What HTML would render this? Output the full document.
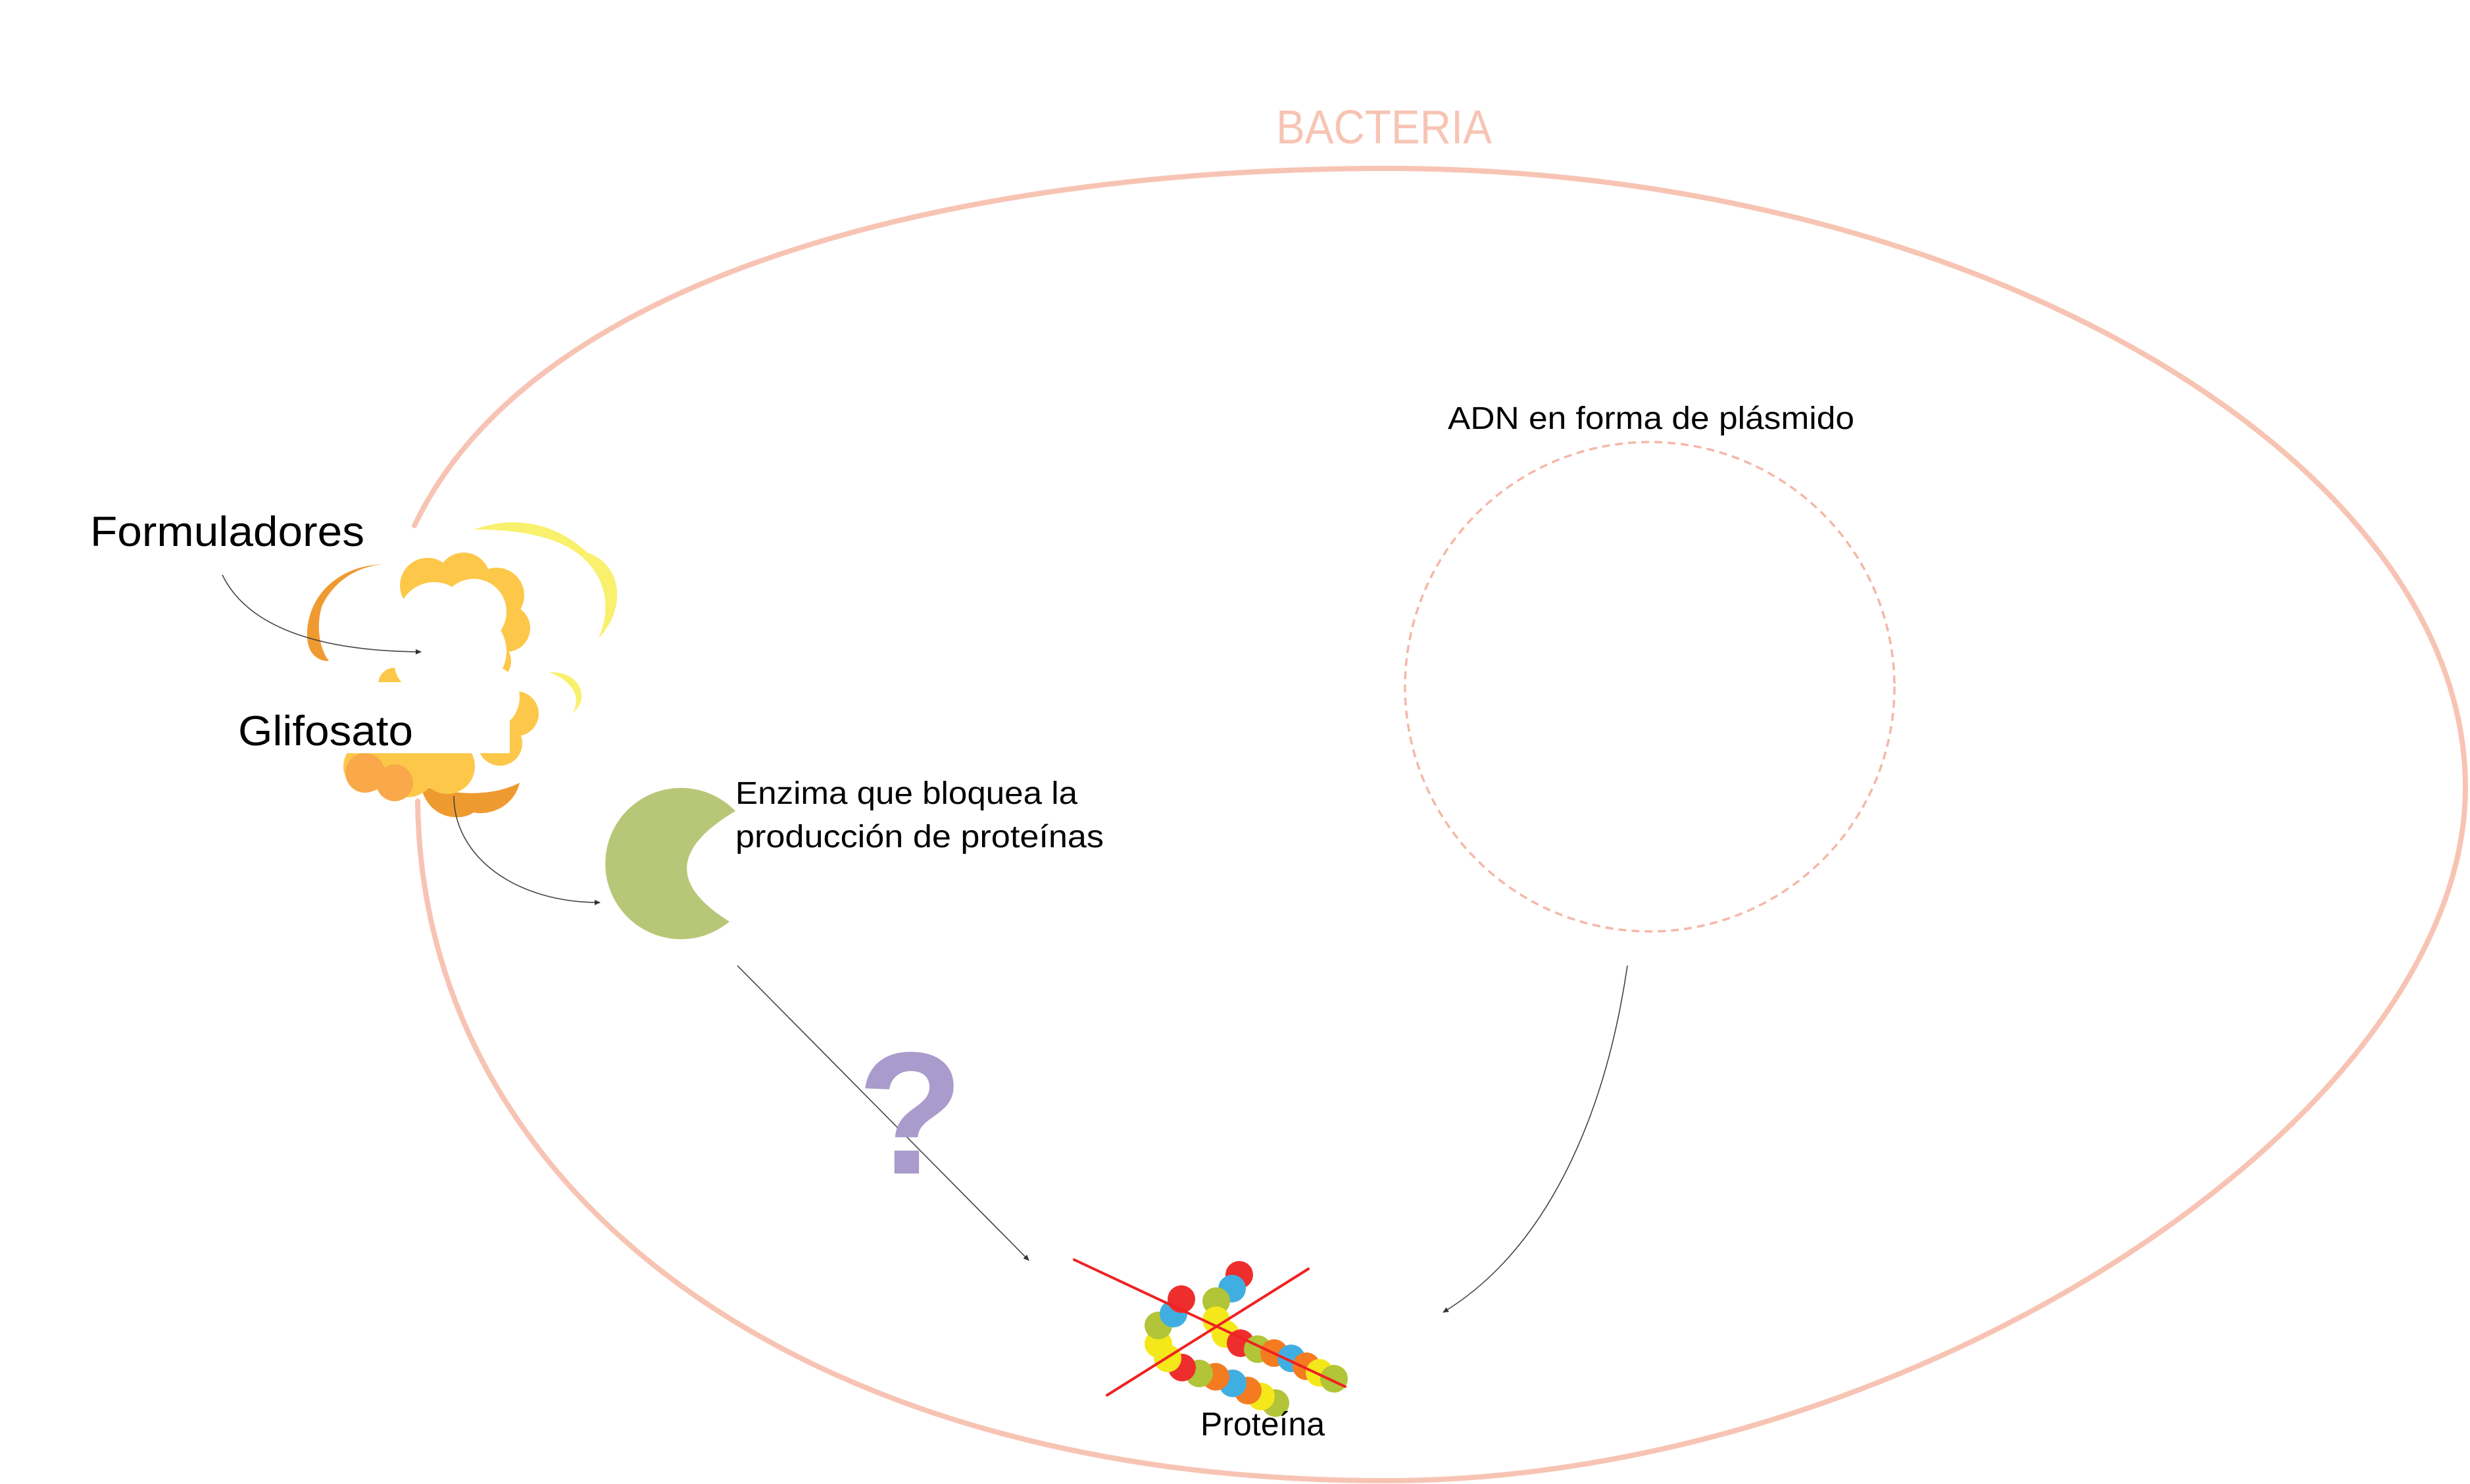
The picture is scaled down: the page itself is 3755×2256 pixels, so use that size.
<!DOCTYPE html>
<html><head><meta charset="utf-8"><style>
html,body{margin:0;padding:0;background:#fff;}
svg{display:block;}
text{font-family:"Liberation Sans",sans-serif;}
</style></head><body>
<svg width="3755" height="2256" viewBox="0 0 3755 2256" xmlns="http://www.w3.org/2000/svg">
<defs>
<marker id="ah" markerWidth="10" markerHeight="10" refX="8" refY="5" orient="auto" markerUnits="userSpaceOnUse"><path d="M0,1 L9,5 L0,9 Z" fill="#333"/></marker>
</defs>
<!-- bacteria outline -->
<path d="M630,799 C 820,400 1500,256 2107,256 C 3000,256 3748,700 3748,1197 C 3748,1700 2900,2251 2107,2251 C 1200,2251 640,1800 635,1218" fill="none" stroke="#f7c4b4" stroke-width="8" stroke-linecap="round"/>
<text x="1940" y="218" font-size="72" fill="#f7c4b4" textLength="328" lengthAdjust="spacingAndGlyphs">BACTERIA</text>

<!-- plasmid -->
<circle cx="2508" cy="1044" r="372" fill="none" stroke="#f4b8a8" stroke-width="3.5" stroke-dasharray="12 8"/>
<text x="2201" y="652" font-size="48" fill="#000" textLength="618" lengthAdjust="spacingAndGlyphs">ADN en forma de plásmido</text>

<!-- explosion -->
<g>
<path d="M720,805 C790,780 850,800 893,840 C950,860 950,930 910,970 C940,900 900,850 860,830 C820,810 770,805 720,805 Z" fill="#f9f06d"/>
<path d="M835,1022 C880,1020 900,1060 870,1085 C885,1060 870,1035 835,1022 Z" fill="#f9f06d"/>
<path d="M580,858 C520,860 470,900 467,960 C465,990 480,1005 500,1005 C485,985 480,950 490,920 C510,880 545,862 580,858 Z" fill="#ef9a30"/>
<path d="M640,1195 C700,1210 750,1210 790,1190 C780,1230 740,1240 720,1235 C700,1250 650,1245 640,1195 Z" fill="#ef9a30"/>
<g fill="#fdc84a">
<circle cx="650" cy="890" r="42"/><circle cx="705" cy="880" r="40"/><circle cx="755" cy="905" r="42"/>
<circle cx="770" cy="955" r="36"/><circle cx="745" cy="1005" r="32"/><circle cx="785" cy="1085" r="34"/>
<circle cx="760" cy="1130" r="34"/><circle cx="560" cy="1165" r="38"/><circle cx="620" cy="1170" r="42"/>
<circle cx="680" cy="1165" r="42"/><circle cx="600" cy="1040" r="25"/>
</g>
<g fill="#f9a84a"><circle cx="555" cy="1175" r="30"/><circle cx="600" cy="1190" r="28"/></g>
<g fill="#fff">
<circle cx="660" cy="940" r="55"/><circle cx="720" cy="930" r="50"/><circle cx="710" cy="990" r="60"/>
<circle cx="680" cy="1060" r="70"/><circle cx="740" cy="1060" r="50"/><circle cx="640" cy="1010" r="40"/>
</g>
<rect x="440" y="1037" width="335" height="108" fill="#fff"/>
</g>
<text x="137" y="830" font-size="64" fill="#000" textLength="417" lengthAdjust="spacingAndGlyphs">Formuladores</text>
<text x="362" y="1133" font-size="64" fill="#000" textLength="266" lengthAdjust="spacingAndGlyphs">Glifosato</text>

<!-- enzyme -->
<path d="M1118,1233 A115,115 0 1 0 1109,1401 Q975,1318 1118,1233 Z" fill="#b8c777"/>
<text x="1118" y="1222" font-size="48" fill="#000" textLength="520" lengthAdjust="spacingAndGlyphs">Enzima que bloquea la</text>
<text x="1118" y="1288" font-size="48" fill="#000" textLength="560" lengthAdjust="spacingAndGlyphs">producción de proteínas</text>

<!-- connectors -->
<g fill="none" stroke="#444" stroke-width="1.6">
<path d="M338,874 C380,960 500,990 640,991" marker-end="url(#ah)"/>
<path d="M690,1210 C690,1300 780,1372 912,1372" marker-end="url(#ah)"/>
<path d="M1121,1468 L1564,1916" marker-end="url(#ah)"/>
<path d="M2474,1468 C2440,1700 2350,1900 2194,1995" marker-end="url(#ah)"/>
</g>

<!-- question mark -->
<text x="1384" y="1784" font-size="265" font-weight="bold" fill="#a99bcb" text-anchor="middle">?</text>

<!-- protein -->
<g>
<g>
<circle cx="1939" cy="2133" r="21" fill="#b2c437"/><circle cx="1917" cy="2123" r="21" fill="#f4e81a"/>
<circle cx="1897" cy="2114" r="21" fill="#f47b20"/><circle cx="1874" cy="2103" r="21" fill="#41aee2"/>
<circle cx="1848" cy="2093" r="21" fill="#f47b20"/><circle cx="1823" cy="2088" r="21" fill="#b2c437"/>
<circle cx="1797" cy="2079" r="21" fill="#ee2d2d"/><circle cx="1775" cy="2065" r="21" fill="#f4e81a"/>
<circle cx="1761" cy="2043" r="21" fill="#f4e81a"/><circle cx="1761" cy="2015" r="21" fill="#b2c437"/>
<circle cx="1784" cy="1997" r="21" fill="#41aee2"/><circle cx="1796" cy="1975" r="21" fill="#ee2d2d"/>
</g>
<g>
<circle cx="1884" cy="1938" r="21" fill="#ee2d2d"/><circle cx="1873" cy="1959" r="21" fill="#41aee2"/>
<circle cx="1849" cy="1978" r="21" fill="#b2c437"/><circle cx="1849" cy="2007" r="21" fill="#f4e81a"/>
<circle cx="1863" cy="2028" r="21" fill="#f4e81a"/><circle cx="1886" cy="2042" r="21" fill="#ee2d2d"/>
<circle cx="1912" cy="2051" r="21" fill="#b2c437"/><circle cx="1937" cy="2057" r="21" fill="#f47b20"/>
<circle cx="1963" cy="2065" r="21" fill="#41aee2"/><circle cx="1986" cy="2077" r="21" fill="#f47b20"/>
<circle cx="2006" cy="2087" r="21" fill="#f4e81a"/><circle cx="2028" cy="2096" r="21" fill="#b2c437"/>
</g>
<g stroke="#ee2222" stroke-width="4" stroke-linecap="round">
<line x1="1633" y1="1915" x2="2045" y2="2108"/>
<line x1="1683" y1="2121" x2="1989" y2="1929"/>
</g>
</g>
<text x="1825" y="2182" font-size="50" fill="#000" textLength="189" lengthAdjust="spacingAndGlyphs">Proteína</text>
</svg>
</body></html>
